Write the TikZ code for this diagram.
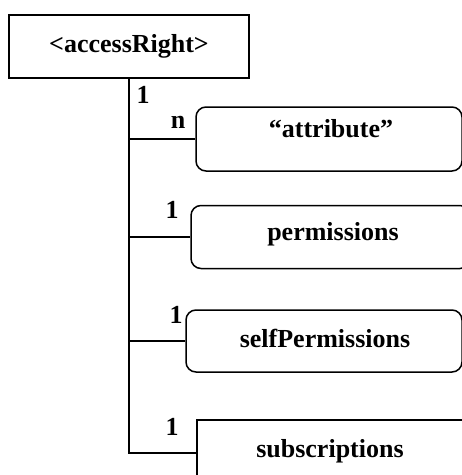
\documentclass[tikz,border=0pt]{standalone}
\usepackage{fontspec}
\setmainfont{Liberation Serif}
\begin{document}
\begin{tikzpicture}[x=1pt,y=-1pt,
  txt/.style={font=\fontsize{26}{30}\selectfont\bfseries, inner sep=0pt, anchor=base},
  box/.style={draw, line width=1.5pt, inner sep=0pt, rectangle},
  rbox/.style={box, rounded corners=10pt},
  conn/.style={line width=1.4pt},
  trunk/.style={line width=2.4pt}]
\useasboundingbox (0,0) rectangle (462,475);
\clip (0,0) rectangle (462,475);

% element boxes
\node[box,  minimum width=240pt, minimum height=63pt] (root) at (129,46.5) {};
\node[rbox, minimum width=266pt, minimum height=64pt] (attr) at (329,139) {};
\node[rbox, minimum width=279pt, minimum height=63pt] (perm) at (330.5,237) {};
\node[rbox, minimum width=276pt, minimum height=62pt] (self) at (324,341) {};
\node[box,  minimum width=268pt, minimum height=66pt] (subs) at (331,453) {};

% box titles
\node[txt] (troot) at (129,52)  {<accessRight>};
\node[txt] (tattr) at (331,137) {“attribute”};
\node[txt] (tperm) at (333,240) {permissions};
\node[txt] (tself) at (325,347) {selfPermissions};
\node[txt] (tsubs) at (330,457) {subscriptions};

% tree connectors
\draw[trunk] (root.south) |- (subs.west);
\draw[conn] (root.south |- attr.west) -- (attr.west);
\draw[conn] (root.south |- perm.west) -- (perm.west);
\draw[conn] (root.south |- self.west) -- (self.west);

% multiplicities
\node[txt] (m0) at (143,103) {1};
\node[txt] (m1) at (178,128) {n};
\node[txt] (m2) at (172,218) {1};
\node[txt] (m3) at (176,323) {1};
\node[txt] (m4) at (172,435) {1};
\end{tikzpicture}
\end{document}
